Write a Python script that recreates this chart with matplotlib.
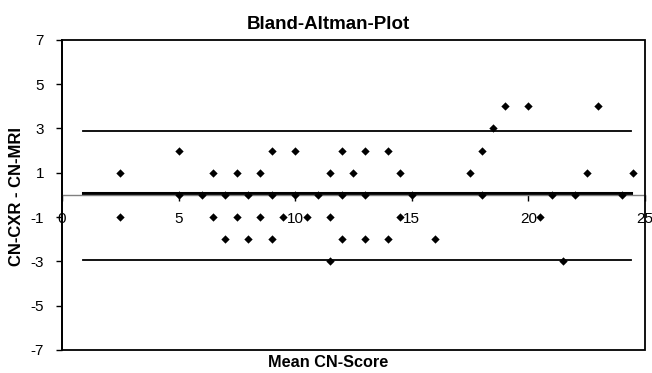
import matplotlib.pyplot as plt
from matplotlib.patches import Rectangle

plt.rcParams['font.family'] = ['Liberation Sans', 'DejaVu Sans']
plt.rcParams['axes.unicode_minus'] = False

# mean of the two scores and difference CXR - MRI
mean_score = [2.5, 2.5, 5, 5, 6, 6.5, 6.5, 7, 7, 7.5, 7.5, 8, 8, 8.5, 8.5,
              9, 9, 9, 9.5, 10, 10, 10.5, 11, 11.5, 11.5, 11.5, 12, 12, 12,
              12.5, 13, 13, 13, 14, 14, 14.5, 14.5, 15, 16, 17.5, 18, 18,
              18.5, 19, 20, 20.5, 21, 21.5, 22, 22.5, 23, 24, 24.5]
diff_score = [1, -1, 2, 0, 0, 1, -1, 0, -2, 1, -1, 0, -2, 1, -1,
              2, 0, -2, -1, 2, 0, -1, 0, 1, -1, -3, 2, 0, -2,
              1, 2, 0, -2, 2, -2, 1, -1, 0, -2, 1, 2, 0,
              3, 4, 4, -1, 0, -3, 0, 1, 4, 0, 1]

bias = 0.1
upper_loa = 2.9
lower_loa = -2.95
line_x = [0.9, 24.4]

x_ticks = [0, 5, 10, 15, 20, 25]
y_ticks = [-7, -5, -3, -1, 1, 3, 5, 7]

fig = plt.figure(figsize=(6.52, 3.73), dpi=100)
ax = fig.add_axes([0.095, 0.062, 0.894, 0.831])

ax.plot(line_x, [upper_loa, upper_loa], color='black', lw=1.3, zorder=2)
ax.plot(line_x, [lower_loa, lower_loa], color='black', lw=1.3, zorder=2)
ax.plot(line_x, [bias, bias], color='black', lw=2.2, zorder=2)
ax.scatter(mean_score, diff_score, marker='D', s=18, color='black',
           linewidths=0, zorder=3)

ax.set_xlim(0, 25)
ax.set_ylim(-7, 7)
ax.set_xticks(x_ticks)
ax.set_yticks(y_ticks)

# x axis crosses at zero, frame drawn as a box
ax.spines['bottom'].set_position(('data', 0))
ax.spines['bottom'].set_color('#808080')
ax.spines['bottom'].set_linewidth(1.0)
ax.spines['top'].set_visible(False)
ax.spines['right'].set_visible(False)
ax.spines['left'].set_linewidth(1.3)
ax.add_patch(Rectangle((0, 0), 1, 1, transform=ax.transAxes, fill=False,
                       lw=1.3, edgecolor='black', clip_on=False, zorder=4))

ax.tick_params(axis='x', direction='out', length=4, width=1, color='black',
               pad=8, labelsize=11)
ax.tick_params(axis='y', direction='out', length=4, width=1, color='black',
               pad=9, labelsize=11)

fig.text(0.503, 0.935, 'Bland-Altman-Plot', ha='center', va='center',
         fontsize=13.5, fontweight='bold')
fig.text(0.503, 0.028, 'Mean CN-Score', ha='center', va='center',
         fontsize=11.7, fontweight='bold')
fig.text(0.025, 0.473, 'CN-CXR - CN-MRI', ha='center', va='center',
         fontsize=12, fontweight='bold', rotation=90)

fig.savefig('out.png', dpi=100)
